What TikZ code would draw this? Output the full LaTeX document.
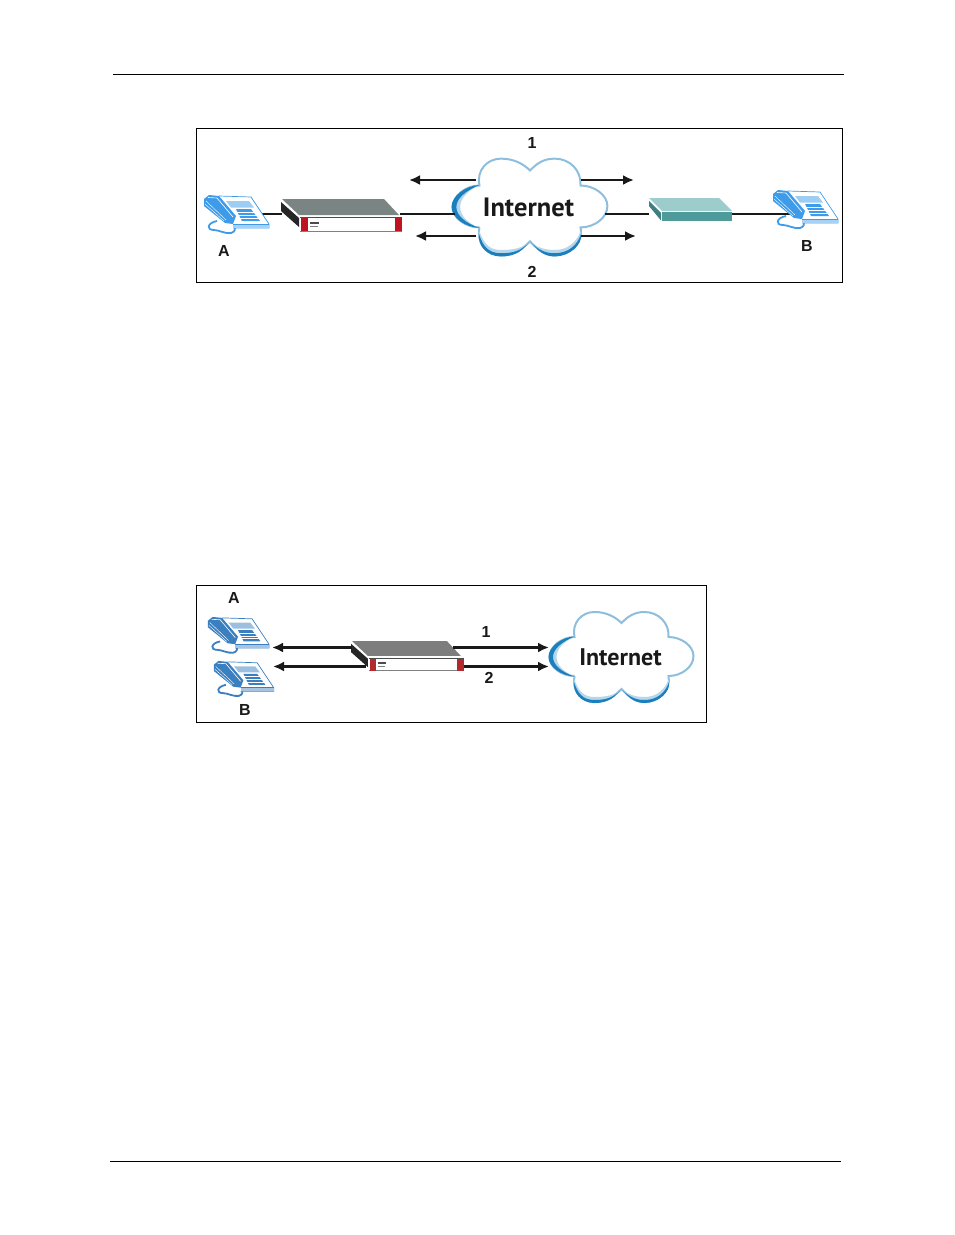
\documentclass[tikz,border=0pt]{standalone}
\usepackage{xcolor}
\usepackage{fontspec}
\setmainfont{Liberation Sans}
\newfontfamily\cloudfont{PT Sans}
\usepackage{tikz}
\usetikzlibrary{arrows.meta, calc}
\definecolor{cloud-light}{HTML}{8DBEDD}
\definecolor{cloud-pale}{HTML}{B5D6EB}
\definecolor{cloud-dark}{HTML}{1B7FBE}
\definecolor{rt-red}{HTML}{BC1520}
\definecolor{rt-dull}{HTML}{B02A30}
\definecolor{rt-slate}{HTML}{7A8583}
\definecolor{rt-gray}{HTML}{7D7D7D}
\definecolor{sw-top}{HTML}{9CCCCC}
\definecolor{sw-front}{HTML}{4F9A9A}
\definecolor{sw-side}{HTML}{3F7F7F}
\definecolor{tel-bright}{HTML}{3D9BE9}
\definecolor{tel-deep}{HTML}{3A7FC0}
\colorlet{line-color}{black!90}
\tikzset{
    pics/phone/.style = {
        code = {%
        % cord
        \draw[#1,line width=1.8pt] (14,27) .. controls (4,29) and (3,36) .. (11,36)
            .. controls (16,36) and (22,40) .. (28,39) .. controls (32,38) and (33,35) .. (31,31);
        % base
        \fill[white] (16,2) -- (48,3) -- (66,30) -- (66,34) -- (30,34) -- cycle;
        \draw[#1,line width=.7pt] (16,2) -- (48,3) -- (66,30) -- (66,34) -- (30,34);
        \draw[#1,line width=.7pt] (30,30) -- (66,30);
        \fill[#1!45] (30,30.5) -- (66,30.5) -- (66,34) -- (30,34) -- cycle;
        \fill[#1!50] (23,7) -- (46,7) -- (51,13.5) -- (28,13.5) -- cycle;
        \fill[#1] (33,15) -- (48,15) -- (57,27) -- (39,27) -- cycle;
        \foreach \ky in {18,21,24}{
            \draw[white,line width=.4pt] (34,\ky) -- (56,\ky);
        }
        % handset
        \fill[#1] (1,5) -- (6,1) -- (16,2) -- (33,22) -- (30,30) -- (22,29) -- (1,12) -- cycle;
        \draw[white,line width=.6pt] (5,3.5) -- (14,4) -- (30,23);
        \draw[white,line width=.4pt] (3,7) -- (23,26);
        \draw[white,line width=.4pt] (2,10) -- (21,27);
        }
    },
    pics/router/.style 2 args = {
        code = {%
        \coordinate (-west) at (0,15);
        \coordinate (-east) at (118,15);
        \coordinate (-nw) at (0,6.5);
        \coordinate (-sw) at (15,27);
        \coordinate (-ne) at (109,6.5);
        \coordinate (-se) at (120,27);
        \fill[#1] (0,0) -- (102,0) -- (117,16) -- (17,16) -- cycle;
        \fill[black!85] (-1,3) -- (17,19) -- (17,28) -- (-1,12) -- cycle;
        \fill[white] (18,18) rectangle (120,32);
        \draw[black!70,line width=.8pt] (18,18.5) -- (120,18.5);
        \draw[gray,line width=.7pt] (18,32) -- (120,32);
        \fill[#2] (19,19) rectangle (26,32);
        \fill[#2] (113,19) rectangle (120,32);
        \fill[black!70] (28,23) rectangle (37,25);
        \draw[black!50,line width=.5pt] (28,27.5) -- (36,27.5);
        }
    },
    pics/switch/.style = {
        code = {%
        \coordinate (-west) at (0,16);
        \coordinate (-east) at (83,16);
        \fill[sw-top] (0,0) -- (70,0) -- (83,13) -- (13,13) -- cycle;
        \fill[sw-side] (0,3) -- (12,15) -- (12,22.5) -- (0,8) -- cycle;
        \fill[sw-front] (13,14) rectangle (83,23);
        }
    },
    pics/cloud/.style = {
        code = {%
        \coordinate (-west) at (-70,7);
        \coordinate (-east) at (70,7);
        \coordinate (-nw) at (-50,-25);
        \coordinate (-ne) at (47,-25);
        \coordinate (-sw) at (-50,27);
        \coordinate (-se) at (47,27);
        \draw[draw=cloud-light,fill=white,line width=2pt]
            (-47,19) .. controls (-60,19) and (-72,10) .. (-72,0)
            .. controls (-72,-10) and (-60,-20) .. (-47,-20)
            .. controls (-50,-34) and (-40,-45) .. (-27,-45)
            .. controls (-15,-45) and (-6,-40) .. (0,-34)
            .. controls (6,-40) and (12,-45) .. (23,-45)
            .. controls (37,-45) and (48,-34) .. (47,-20)
            .. controls (60,-20) and (72,-11) .. (72,-1)
            .. controls (72,10) and (60,19) .. (47,19)
            .. controls (50,33) and (37,45) .. (23,45)
            .. controls (12,45) and (6,38) .. (0,32)
            .. controls (-6,38) and (-15,45) .. (-27,45)
            .. controls (-40,45) and (-50,33) .. (-47,19);
        % left crescent
        \fill[cloud-pale] (-47,19.5) .. controls (-60,19) and (-72,10) .. (-72,0)
            .. controls (-72,-10) and (-60,-20) .. (-47,-20.5)
            .. controls (-58,-15) and (-65,-8) .. (-65,0)
            .. controls (-65,8) and (-58,15) .. (-47,19.5);
        \fill[cloud-dark] (-47,19.5) .. controls (-60,19) and (-73,10) .. (-73,0)
            .. controls (-73,-10) and (-60,-20) .. (-47,-20.5)
            .. controls (-60,-15) and (-68.5,-8) .. (-68.5,0)
            .. controls (-68.5,8) and (-60,15) .. (-47,19.5);
        % bottom crescents
        \foreach \sx/\ex in {1/23,-1/-27}{
            \fill[cloud-pale] (\sx*47.5,22) .. controls (\sx*50,33) and (\ex+\sx*14,46) .. (\ex,46)
                .. controls (\sx*12,46) and (\sx*6,39) .. (\sx*1,33)
                .. controls (\sx*8,38) and (\sx*14,40) .. (\ex,40)
                .. controls (\ex+\sx*12,40) and (\sx*43,33) .. (\sx*47.5,22);
            \fill[cloud-dark] (\sx*47.5,25) .. controls (\sx*49,35) and (\ex+\sx*14,46) .. (\ex,46)
                .. controls (\sx*12,46) and (\sx*6,39) .. (\sx*1,33)
                .. controls (\sx*8,40) and (\sx*14,43) .. (\ex,43)
                .. controls (\ex+\sx*12,43) and (\sx*44,36) .. (\sx*47.5,25);
        }
        }
    },
    lbl/.style = {font=\bfseries\fontsize{16}{16}\selectfont, text=black!90, inner sep=0pt},
    inet/.style = {font=\cloudfont\bfseries\fontsize{26.5}{26.5}\selectfont, text=black!90, inner sep=0pt},
    link/.style = {line-color, line width=2.2pt},
    flow/.style = {line-color, line width=2.2pt, -{Latex[length=11pt,width=10pt]}},
}
\begin{document}
\begin{tikzpicture}[x=1pt,y=-1pt]
    \useasboundingbox (0,0) rectangle (954,1235);
    \draw[black,line width=.8pt] (113,74.5) -- (844,74.5);
    \draw[black,line width=.8pt] (110,1161.5) -- (841,1161.5);
    \draw[black,line width=.8pt] (196.5,128.5) rectangle (842.5,282.5);
    \draw[black,line width=.8pt] (196.5,585.5) rectangle (706.5,722.5);

    % upper picture
    \coordinate (phoneA-port) at (225,214);
    \coordinate (phoneB-port) at (794,214);
    \pic (rtrA) at (282,199) {router={rt-slate}{rt-red}};
    \pic (swB) at (649,198) {switch};
    \pic[scale=1.075] (cloudA) at (530,207) {cloud};
    \coordinate (outA1) at (409,180);
    \coordinate (outA2) at (415,236);
    \coordinate (outB1) at (634,180);
    \coordinate (outB2) at (636,236);
    \draw[link] (phoneA-port) -- (rtrA-west);
    \draw[link] (rtrA-east) -- (cloudA-west |- rtrA-east);
    \draw[link] (cloudA-east |- swB-west) -- (swB-west);
    \draw[link] (swB-east) -- (phoneB-port);
    \pic (phoneA) at (203,194) {phone=tel-bright};
    \pic (phoneB) at (772,189) {phone=tel-bright};
    \draw[flow] (cloudA-nw |- outA1) -- (outA1);
    \draw[flow] (cloudA-sw |- outA2) -- (outA2);
    \draw[flow] (cloudA-ne |- outB1) -- (outB1);
    \draw[flow] (cloudA-se |- outB2) -- (outB2);
    \node[inet] (inetA) at (528.5,207) {Internet};
    \node[lbl] (labelA) at (224,251) {A};
    \node[lbl] (labelB) at (807,246) {B};
    \node[lbl] (labelOne) at (532,143) {1};
    \node[lbl] (labelTwo) at (532,272) {2};

    % lower picture
    \pic[scale=.94] (phoneC) at (207,616) {phone=tel-deep};
    \pic[scale=.92] (phoneD) at (213,660) {phone=tel-deep};
    \pic[scale=.93] (rtrC) at (352,641) {router={rt-gray}{rt-dull}};
    \pic (cloudC) at (621.5,657) {cloud};
    \coordinate (tipC) at (272,647.5);
    \coordinate (tipD) at (273,666.5);
    \coordinate (tipE) at (549,647.5);
    \coordinate (tipF) at (549,666.5);
    \draw[flow] (rtrC-nw |- tipC) -- (tipC);
    \draw[flow] (rtrC-sw |- tipD) -- (tipD);
    \draw[flow] (rtrC-ne |- tipE) -- (tipE);
    \draw[flow] (rtrC-se |- tipF) -- (tipF);
    \node[inet,font=\cloudfont\bfseries\fontsize{24}{24}\selectfont] (inetC) at (620.5,657) {Internet};
    \node[lbl] (labelC) at (234,598) {A};
    \node[lbl] (labelD) at (245,710) {B};
    \node[lbl] (labelThree) at (486,632) {1};
    \node[lbl] (labelFour) at (489,678) {2};
\end{tikzpicture}
\end{document}
